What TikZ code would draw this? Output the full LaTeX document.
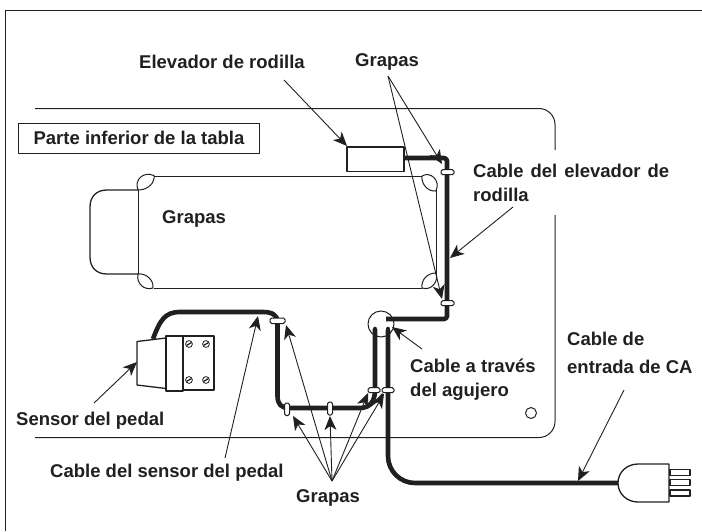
\documentclass[tikz,border=0pt]{standalone}
\usepackage{fontspec}
\setmainfont{Liberation Sans}
\usetikzlibrary{arrows.meta}
\definecolor{ink}{HTML}{231F20}
\tikzset{
 x=1pt,y=-1pt,
 lbl/.style={font=\fontsize{18.5}{24}\selectfont\bfseries,text=ink,inner sep=0pt,align=left},
 thin line/.style={draw=ink,line width=1pt},
 mid line/.style={draw=ink,line width=1.3pt},
 cable/.style={draw=ink,line width=4.6pt},
 clipbox/.style={draw=ink,fill=white,line width=1pt,rounded corners=1.6pt},
 call/.style={draw=ink,line width=0.9pt,-{Stealth[length=14pt,width=12pt,inset=4pt]}},
}
\begin{document}
\begin{tikzpicture}[line join=round]
\useasboundingbox (0,0) rectangle (702,531);
\draw[draw=ink,line width=1.3pt] (5.5,531) -- (5.5,10.5) -- (702,10.5);
% table
\draw[thin line,rounded corners=16pt] (35,108.5) -- (555,108.5) -- (555,150);
\draw[thin line,rounded corners=16pt] (555,215) -- (555,437.5) -- (35,437.5);
\node[draw=ink,line width=1pt,minimum width=241pt,minimum height=30.5pt,inner sep=0pt,lbl] (box) at (139,138.3) {Parte inferior de la tabla};
\node[draw=ink,line width=1pt,circle,minimum size=11pt,inner sep=0pt] (hole2) at (531,413) {};
% inner outline
\draw[thin line] (154,176) -- (422,176);
\draw[thin line] (154,288) -- (422,288);
\draw[thin line] (138,190) -- (138,274);
\draw[thin line] (436,190) -- (436,274);
\draw[mid line] (138,190) -- (107,190) .. controls (96,190) and (90,197) .. (90,207) -- (90,257) .. controls (90,267) and (96,274) .. (107,274) -- (138,274);
% lenses
\draw[thin line] (138,190) .. controls (134,180) and (143,171) .. (154,175.5) .. controls (155,183) and (148,190) .. (138,190);
\draw[thin line] (422,176) .. controls (430,171) and (441,180) .. (436,191) .. controls (428,192) and (421,184) .. (422,176);
\draw[thin line] (422,288) .. controls (421,279) and (428,273) .. (436,273) .. controls (439,282) and (431,291) .. (422,288);
\draw[thin line] (138,274) .. controls (146,273) and (154,280) .. (153,288) .. controls (144,291) and (136,283) .. (138,274);
% elevator box
\node[draw=ink,line width=1.3pt,fill=white,minimum width=57pt,minimum height=24.3pt,inner sep=0pt] (elev) at (375.5,159) {};
% hole
\node[draw=ink,line width=1pt,circle,minimum size=26pt,inner sep=0pt] (hole) at (381,324) {};
% cables
\coordinate (e0) at (404,158); \coordinate (e1) at (447,158); \coordinate (e2) at (447,319); \coordinate (e3) at (386,319);
\draw[cable,rounded corners=3pt] (e0) -- (e1) -- (e2) -- (e3);
\draw[cable] (153,339) .. controls (160,320) and (165,312) .. (180,312) -- (263,312) .. controls (272,312) and (277.5,315) .. (277.5,322) -- (277.5,396) .. controls (277.5,404) and (281,408) .. (289,408) -- (360,408) .. controls (370,408) and (375,401) .. (375,390) -- (375,329);
\draw[cable,line cap=round] (375,330) -- (375,329);
\draw[cable,line width=2.6pt] (366,407.5) .. controls (373,405) and (379,399) .. (383,394);
\draw[cable,rounded corners=27pt] (388,330) -- (388,483) -- (618,483);
\draw[cable,line cap=round] (388,330) -- (388,329);
% clips
\draw[clipbox] (441,169.7) rectangle (454,174.7);
\draw[clipbox] (441,300.7) rectangle (454,305.7);
\draw[clipbox] (270,318) rectangle (285,323.5);
\draw[clipbox] (284.5,403) rectangle (289.5,415.5);
\draw[clipbox] (327.5,402) rectangle (332.5,415);
\draw[clipbox] (368,387.7) rectangle (380,392.7);
\draw[clipbox] (382,387.7) rectangle (394,392.7);
% sensor
\draw[mid line,fill=white] (137,341.5) -- (166,338) -- (166,388.5) -- (137,385) -- cycle;
\draw[mid line,fill=white] (166,336) rectangle (183,391);
\draw[mid line,fill=white] (183,336) rectangle (214,390);
\foreach \p/\q in {189/344,206/344,189/380,206/380}{
 \draw[draw=ink,line width=0.8pt,fill=white] (\p,\q) circle[radius=3.4];
 \draw[draw=ink,line width=1.3pt] (\p-2.2,\q+1.2) -- (\p+2.2,\q-1.2);
}
% plug
\draw[mid line,fill=white] (669,464) -- (638,464) .. controls (627,464) and (618,472) .. (618,483) .. controls (618,494) and (627,502) .. (638,502) -- (669,502) -- cycle;
\foreach \q in {469.5,479.5,490}{
 \draw[mid line,fill=white] (670,\q) rectangle (690,\q+6);
}
% labels
\node[lbl,anchor=base west] (l1) at (139,68) {Elevador de rodilla};
\node[lbl,anchor=base west] (l2) at (355,66.7) {Grapas};
\node[lbl,anchor=base west] (l3) at (162,223) {Grapas};
\node[lbl,anchor=north west] (l4) at (473,163.5) {\makebox[196pt][s]{Cable del elevador de}\\rodilla};
\node[lbl,anchor=north west] (l5) at (567,331.5) {Cable de\\[4pt]entrada de CA};
\node[lbl,anchor=north west] (l6) at (410,358.5) {Cable a través\\del agujero};
\node[lbl,anchor=base west] (l7) at (16,425) {Sensor del pedal};
\node[lbl,anchor=base west] (l8) at (50,477) {Cable del sensor del pedal};
\node[lbl,anchor=base west] (l9) at (296,502) {Grapas};
% callouts
\coordinate (a1s) at (284,80); \coordinate (a1e) at (347,146);
\draw[call] (a1s) -- (a1e);
\coordinate (a2s) at (388,76); \coordinate (a2e) at (442,164);
\draw[call] (a2s) -- (a2e);
\coordinate (a3e) at (442,299);
\draw[call] (a2s) -- (a3e);
\coordinate (a4s) at (513,207); \coordinate (a4e) at (450,258);
\draw[call] (a4s) -- (a4e);
\coordinate (a5s) at (422,349); \coordinate (a5e) at (392,327);
\draw[call] (a5s) -- (a5e);
\coordinate (a6s) at (624,390); \coordinate (a6e) at (578,481);
\draw[call] (a6s) -- (a6e);
\coordinate (a7s) at (94,403); \coordinate (a7e) at (137,362);
\draw[call] (a7s) -- (a7e);
\coordinate (a8s) at (225,458); \coordinate (a8e) at (258,316);
\draw[call] (a8s) -- (a8e);
\coordinate (g) at (332,481);
\coordinate (g1) at (293,416); \coordinate (g2) at (330,416); \coordinate (g3) at (286,325); \coordinate (g4) at (368,393); \coordinate (g5) at (384,394);
\foreach \e in {g1,g2,g3,g4,g5}{ \draw[call] (g) -- (\e); }
\end{tikzpicture}
\end{document}
